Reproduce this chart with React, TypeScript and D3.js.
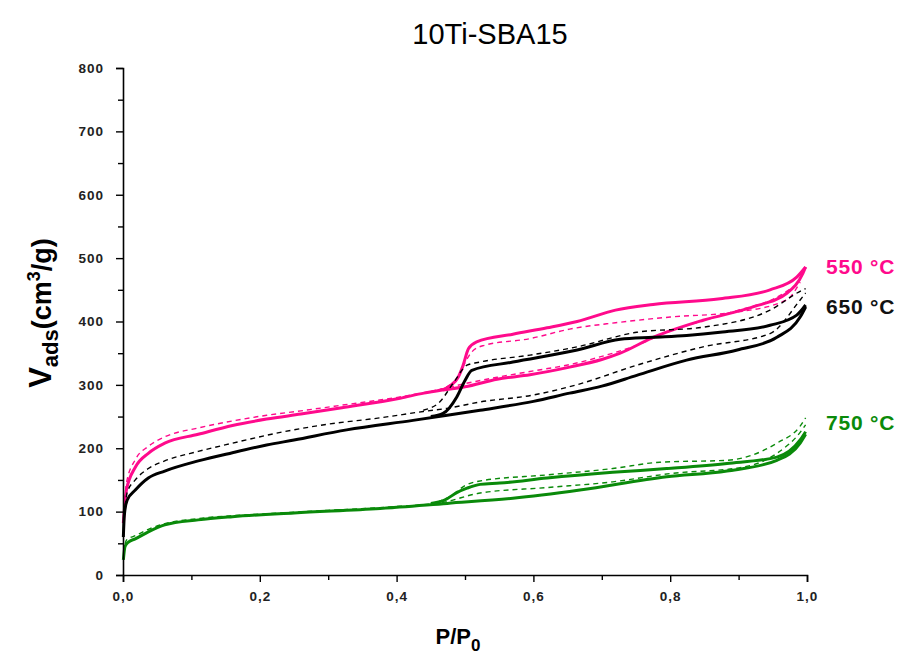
import React, { useEffect, useRef } from 'react';
import * as d3 from 'd3';

type Pt = [number, number];

// 550 °C
const ads550: Pt[] = [[0.0005, 82], [0.003, 115], [0.005, 134], [0.018, 170], [0.037, 192], [0.061, 208], [0.11, 222], [0.16, 236], [0.21, 246], [0.26, 254], [0.32, 264], [0.405, 279], [0.44, 287], [0.468, 292], [0.5, 297], [0.547, 309], [0.595, 316], [0.653, 328], [0.7, 340], [0.727, 350], [0.775, 375], [0.848, 402], [0.921, 423], [0.971, 445], [0.994, 476], [0.998, 486]];
const des550: Pt[] = [[0.468, 292], [0.48, 300], [0.49, 312], [0.497, 330], [0.505, 357], [0.517, 368], [0.57, 380], [0.62, 390], [0.664, 400], [0.72, 418], [0.775, 427], [0.873, 436], [0.946, 450], [0.985, 470], [0.998, 486]];
const ads550b: Pt[] = [[0.001, 90], [0.005, 145], [0.018, 182], [0.037, 203], [0.061, 218], [0.11, 232], [0.16, 243], [0.21, 252], [0.26, 259], [0.32, 268], [0.405, 281], [0.46, 292], [0.5, 302], [0.547, 312], [0.6, 322], [0.653, 332], [0.7, 345], [0.75, 362], [0.8, 385], [0.85, 402], [0.9, 418], [0.95, 435], [0.99, 462]];
const des550b: Pt[] = [[0.46, 292], [0.475, 298], [0.49, 312], [0.5, 335], [0.51, 352], [0.527, 362], [0.595, 373], [0.653, 388], [0.72, 398], [0.8, 407], [0.898, 415], [0.97, 434], [0.99, 462]];

// 650 °C
const ads650: Pt[] = [[0.0005, 60], [0.002, 95], [0.006, 118], [0.018, 134], [0.037, 153], [0.061, 164], [0.11, 180], [0.16, 193], [0.21, 205], [0.25, 213], [0.327, 229], [0.424, 244], [0.474, 252], [0.522, 260], [0.6, 274], [0.653, 287], [0.7, 298], [0.751, 315], [0.824, 339], [0.898, 355], [0.956, 375], [0.99, 407], [0.998, 423]];
const des650: Pt[] = [[0.45, 250], [0.468, 255], [0.488, 281], [0.5, 307], [0.51, 323], [0.57, 336], [0.664, 355], [0.727, 372], [0.775, 375], [0.824, 378], [0.873, 383], [0.946, 394], [0.985, 410], [0.998, 426]];
const ads650b: Pt[] = [[0.001, 80], [0.006, 130], [0.018, 150], [0.037, 168], [0.061, 180], [0.11, 195], [0.16, 208], [0.23, 225], [0.3, 238], [0.376, 248], [0.439, 258], [0.474, 263], [0.522, 273], [0.6, 284], [0.663, 300], [0.751, 331], [0.848, 360], [0.946, 381], [0.99, 434], [0.998, 445]];
const des650b: Pt[] = [[0.439, 260], [0.463, 273], [0.483, 303], [0.503, 331], [0.522, 336], [0.595, 347], [0.664, 360], [0.751, 383], [0.848, 391], [0.946, 418], [0.994, 450], [0.998, 452]];

// 750 °C
const ads750: Pt[] = [[0.0005, 24], [0.003, 45], [0.008, 52], [0.018, 57], [0.037, 68], [0.061, 79], [0.11, 87], [0.16, 92], [0.25, 98], [0.376, 105], [0.474, 113], [0.57, 121], [0.668, 134], [0.795, 155], [0.883, 164], [0.956, 181], [0.99, 208], [0.998, 222]];
const des750: Pt[] = [[0.45, 113], [0.47, 118], [0.488, 130], [0.503, 137], [0.522, 143], [0.551, 145], [0.62, 153], [0.716, 162], [0.795, 168], [0.883, 176], [0.956, 186], [0.99, 213], [0.998, 226]];
const ads750b: Pt[] = [[0.001, 35], [0.005, 55], [0.018, 62], [0.037, 72], [0.061, 81], [0.11, 89], [0.2, 96], [0.3, 102], [0.4, 108], [0.47, 115], [0.52, 129], [0.62, 138], [0.716, 147], [0.8, 160], [0.906, 170], [0.956, 192], [0.99, 225], [0.998, 237]];
const des750b: Pt[] = [[0.46, 115], [0.48, 125], [0.5, 141], [0.52, 148], [0.62, 158], [0.716, 168], [0.785, 178], [0.883, 181], [0.956, 208], [0.99, 235], [0.998, 248]];

const xMajor = [0, 0.2, 0.4, 0.6, 0.8, 1.0];
const xMinor = [0.1, 0.3, 0.5, 0.7, 0.9];
const yMajor = [0, 100, 200, 300, 400, 500, 600, 700, 800];
const yMinor = [50, 150, 250, 350, 450, 550, 650, 750];

const PINK = '#ff0a8c';
const BLACK = '#000000';
const GREEN = '#0a8a0a';

const series = [
  { data: ads550, color: PINK, dashed: false },
  { data: des550, color: PINK, dashed: false },
  { data: ads550b, color: PINK, dashed: true },
  { data: des550b, color: PINK, dashed: true },
  { data: ads650, color: BLACK, dashed: false },
  { data: des650, color: BLACK, dashed: false },
  { data: ads650b, color: BLACK, dashed: true },
  { data: des650b, color: BLACK, dashed: true },
  { data: ads750, color: GREEN, dashed: false },
  { data: des750, color: GREEN, dashed: false },
  { data: ads750b, color: GREEN, dashed: true },
  { data: des750b, color: GREEN, dashed: true },
];

const labels = [
  { text: '550 °C', color: PINK, v: 487 },
  { text: '650 °C', color: '#111', v: 424 },
  { text: '750 °C', color: GREEN, v: 240 },
];

const FONT = 'Arial, "Liberation Sans", sans-serif';

const App = () => {
  const svgRef = useRef<SVGSVGElement>(null);

  useEffect(() => {
    const svg = d3.select(svgRef.current);
    svg.selectAll('*').remove();
    const width = 904;
    const height = 654;
    const margin = { top: 68, right: 97, bottom: 79, left: 123 };

    const x = d3.scaleLinear().domain([0, 1]).range([margin.left, width - margin.right]);
    const y = d3.scaleLinear().domain([0, 800]).range([height - margin.bottom, margin.top]);
    const fmt = (d: number) => d3.format('.1f')(d).replace('.', ',');

    // curves
    const lineGen = d3.line<Pt>().x((d) => x(d[0])).y((d) => y(d[1])).curve(d3.curveMonotoneX);
    svg.append('g')
      .selectAll('path')
      .data(series)
      .join('path')
      .attr('d', (s) => lineGen(s.data))
      .attr('fill', 'none')
      .attr('stroke', (s) => s.color)
      .attr('stroke-width', (s) => (s.dashed ? 1.4 : 3))
      .attr('stroke-dasharray', (s) => (s.dashed ? '5,4' : null))
      .attr('stroke-linejoin', 'round');

    // axes
    const xAxis = svg.append('g').attr('transform', `translate(0,${y(0)})`);
    xAxis.call(d3.axisBottom(x).tickValues(xMajor).tickSize(7).tickPadding(9).tickFormat((d) => fmt(d as number)));
    xAxis.append('g').call(d3.axisBottom(x).tickValues(xMinor).tickSize(5).tickFormat(() => ''))
      .call((g) => g.select('.domain').remove());

    const yAxis = svg.append('g').attr('transform', `translate(${x(0)},0)`);
    yAxis.call(d3.axisLeft(y).tickValues(yMajor).tickSize(7).tickPadding(12));
    yAxis.append('g').call(d3.axisLeft(y).tickValues(yMinor).tickSize(5).tickFormat(() => ''))
      .call((g) => g.select('.domain').remove());

    svg.selectAll('.domain').attr('stroke', '#000').attr('stroke-width', 1.6);
    svg.selectAll('.tick line').attr('stroke', '#000').attr('stroke-width', 1.4);
    svg.selectAll('.tick text')
      .attr('font-family', FONT)
      .attr('font-size', 13.5)
      .attr('font-weight', 'bold')
      .attr('letter-spacing', 1)
      .attr('fill', '#222');

    // end labels
    svg.append('g')
      .selectAll('text')
      .data(labels)
      .join('text')
      .attr('x', 826)
      .attr('y', (d) => y(d.v))
      .attr('dy', '0.35em')
      .attr('fill', (d) => d.color)
      .attr('font-family', FONT)
      .attr('font-size', 21)
      .attr('font-weight', 'bold')
      .attr('letter-spacing', 0.8)
      .text((d) => d.text);

    // title
    svg.append('text')
      .attr('x', 490)
      .attr('y', 44)
      .attr('text-anchor', 'middle')
      .attr('font-family', FONT)
      .attr('font-size', 29)
      .text('10Ti-SBA15');

    // x label
    const xl = svg.append('text')
      .attr('x', 458)
      .attr('y', 644)
      .attr('text-anchor', 'middle')
      .attr('font-family', FONT)
      .attr('font-size', 22)
      .attr('font-weight', 'bold');
    xl.append('tspan').text('P/P');
    xl.append('tspan').attr('font-size', 17).attr('dy', 7).text('0');

    // y label
    const yl = svg.append('text')
      .attr('transform', `translate(51,313) rotate(-90)`)
      .attr('text-anchor', 'middle')
      .attr('font-family', FONT)
      .attr('font-size', 27)
      .attr('font-weight', 'bold');
    yl.append('tspan').attr('font-size', 31).text('V');
    yl.append('tspan').attr('font-size', 22).attr('dy', 7).text('ads');
    yl.append('tspan').attr('dy', -7).text('(cm');
    yl.append('tspan').attr('font-size', 18).attr('dy', -11).text('3');
    yl.append('tspan').attr('dy', 11).text('/g)');
  }, []);

  return (
    <svg
      ref={svgRef}
      width={904}
      height={654}
      style={{ position: 'absolute', left: 0, top: 0, background: '#fff' }}
    />
  );
};

export default App;
